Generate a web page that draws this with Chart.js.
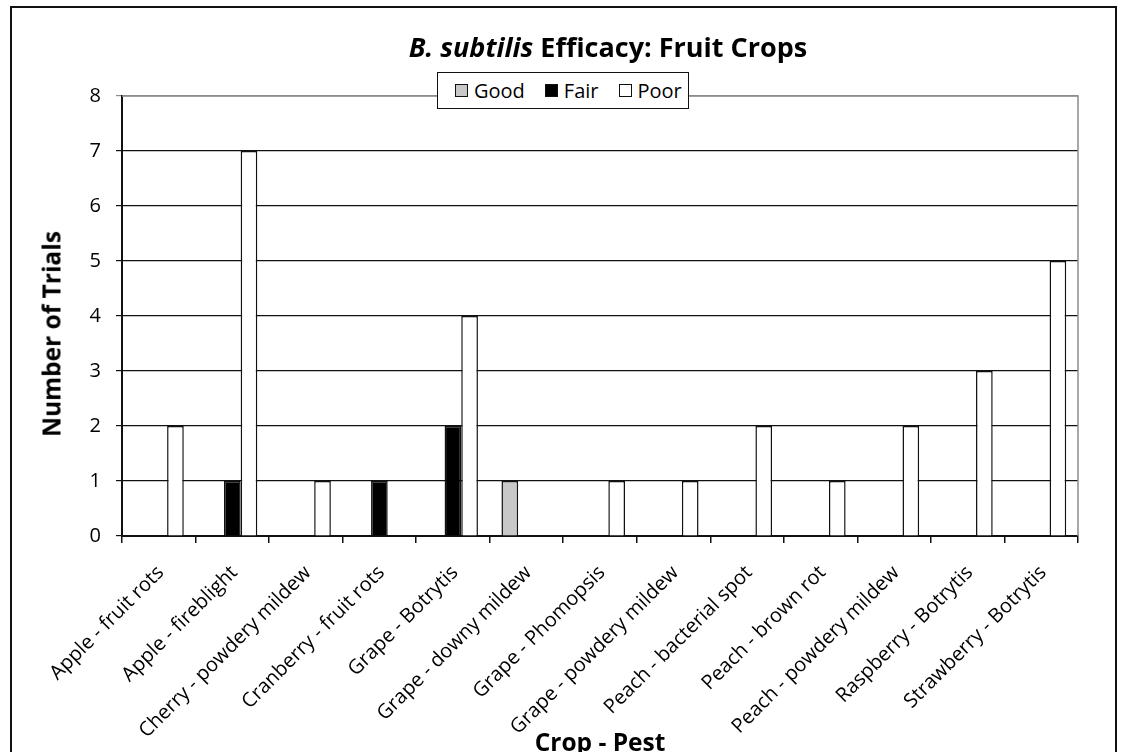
<!DOCTYPE html>
<html>
<head>
<meta charset="utf-8">
<script src="https://cdn.jsdelivr.net/npm/chart.js@4/dist/chart.umd.min.js"></script>
<style>
  html, body { margin: 0; padding: 0; background: #fff; overflow: hidden; }
  #wrap { position: relative; width: 1122px; height: 752px; font-family: "Open Sans", sans-serif; color: #000; }
  #frame { position: absolute; left: 10px; top: 6px; width: 1107px; height: 780px; border: 2px solid #111; box-sizing: border-box; }
  canvas { position: absolute; left: 0; top: 0; }
  .title { position: absolute; left: 608px; top: 28px; transform: translateX(-50%); font-size: 27px; font-weight: bold; white-space: nowrap; line-height: normal; }
  .ytitle { position: absolute; left: 51px; top: 334px; transform: translate(-50%, -50%) rotate(-90deg); font-size: 24.5px; font-weight: bold; white-space: nowrap; line-height: normal; }
  .xtitle { position: absolute; left: 600px; top: 741px; transform: translate(-50%, -50%); font-size: 24.5px; font-weight: bold; white-space: nowrap; line-height: normal; }
  .legend { position: absolute; left: 437px; top: 72px; width: 252px; height: 37px; box-sizing: border-box; border: 1px solid #111; background: #fff; display: flex; align-items: center; padding-left: 17px; font-size: 20px; }
  .legend span.item { display: flex; align-items: center; margin-right: 20px; }
  .legend span.box { display: inline-block; width: 11px; height: 11px; border: 1px solid #111; margin-right: 6px; }
</style>
</head>
<body>
<div id="wrap">
  <div id="frame"></div>
  <canvas id="myChart" width="1122" height="752"></canvas>
  <div class="title"><i>B. subtilis</i> Efficacy: Fruit Crops</div>
  <div class="ytitle">Number of Trials</div>
  <div class="xtitle">Crop - Pest</div>
  <div class="legend"></div>
</div>
<script>
const categories = [
    "Apple - fruit rots",
    "Apple - fireblight",
    "Cherry - powdery mildew",
    "Cranberry - fruit rots",
    "Grape - Botrytis",
    "Grape - downy mildew",
    "Grape - Phomopsis",
    "Grape - powdery mildew",
    "Peach - bacterial spot",
    "Peach - brown rot",
    "Peach - powdery mildew",
    "Raspberry - Botrytis",
    "Strawberry - Botrytis"
];
const good = [0, 0, 0, 0, 0, 1, 0, 0, 0, 0, 0, 0, 0];
const fair = [0, 1, 0, 1, 2, 0, 0, 0, 0, 0, 0, 0, 0];
const poor = [2, 7, 1, 0, 4, 0, 1, 1, 2, 1, 2, 3, 5];
const yTickValues = [0, 1, 2, 3, 4, 5, 6, 7, 8];

document.addEventListener("DOMContentLoaded", function () {
    const ctx = document.getElementById('myChart');

    // gray plot border (top + right), like the excel plot area
    const plotBorder = {
        id: 'plotBorder',
        beforeDatasetsDraw(chart) {
            const a = chart.chartArea;
            const c = chart.ctx;
            c.save();
            c.strokeStyle = '#8c8c8c';
            c.lineWidth = 1.5;
            c.beginPath();
            c.moveTo(a.left, a.top);
            c.lineTo(a.right, a.top);
            c.lineTo(a.right, a.bottom);
            c.stroke();
            c.restore();
        }
    };

    const chart = new Chart(ctx, {
        type: 'bar',
        data: {
            labels: categories,
            datasets: [
                { label: 'Good', data: good, backgroundColor: '#c8c8c8', borderColor: '#111', borderWidth: 1.5 },
                { label: 'Fair', data: fair, backgroundColor: '#000', borderColor: '#111', borderWidth: 1.5 },
                { label: 'Poor', data: poor, backgroundColor: '#fff', borderColor: '#111', borderWidth: 1.5 }
            ]
        },
        options: {
            responsive: false,
            animation: false,
            devicePixelRatio: 1,
            layout: { padding: { left: 0, right: 44, top: 96, bottom: 0 } },
            datasets: {
                bar: { categoryPercentage: 0.68, barPercentage: 1.0 }
            },
            plugins: {
                legend: { display: false },
                title: { display: false },
                tooltip: { enabled: false }
            },
            scales: {
                x: {
                    afterFit: function (scale) { scale.height = 216; },
                    grid: { drawOnChartArea: false, drawTicks: true, tickLength: 7, color: '#111', lineWidth: 1.5 },
                    border: { display: true, color: '#111', width: 2 },
                    ticks: {
                        autoSkip: false,
                        minRotation: 45,
                        maxRotation: 45,
                        padding: 18,
                        labelOffset: 2,
                        color: '#000',
                        font: { family: 'Open Sans', size: 20 }
                    }
                },
                y: {
                    min: yTickValues[0],
                    max: yTickValues[yTickValues.length - 1],
                    afterFit: function (scale) { scale.width = 122; },
                    grid: {
                        color: function (c) { return c.tick && c.tick.value === 8 ? '#8c8c8c' : '#111'; },
                        lineWidth: 1.2,
                        tickLength: 6
                    },
                    border: { display: true, color: '#111', width: 2 },
                    ticks: {
                        stepSize: 1,
                        padding: 15,
                        color: '#000',
                        font: { family: 'Open Sans', size: 20 }
                    }
                }
            }
        },
        plugins: [plotBorder]
    });

    // legend from the datasets
    let legend = document.querySelector(".legend");
    chart.data.datasets.forEach(ds => {
        let item = document.createElement("span");
        item.classList.add("item");
        let box = document.createElement("span");
        box.classList.add("box");
        box.style.background = ds.backgroundColor;
        let txt = document.createElement("span");
        txt.innerHTML = ds.label;
        item.appendChild(box);
        item.appendChild(txt);
        legend.appendChild(item);
    });
});
</script>
</body>
</html>
